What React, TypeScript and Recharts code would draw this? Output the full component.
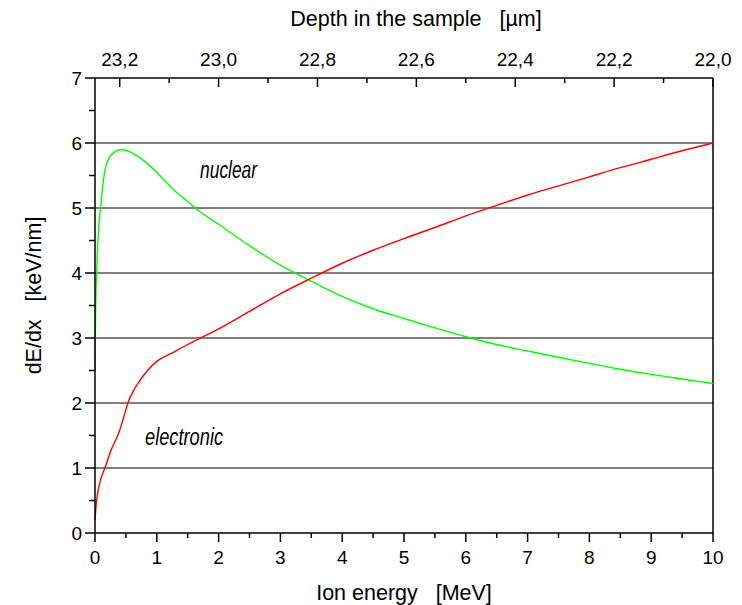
import React from "react";
import { LineChart, Line, XAxis, YAxis, ReferenceLine, ReferenceDot } from "recharts";

// ion energy [MeV] -> stopping power [keV/nm]
const nuclearEnergy = [0, 0.01, 0.027, 0.05, 0.09, 0.16, 0.24, 0.33, 0.43, 0.55, 0.7, 0.84, 1.0, 1.25, 1.5, 1.62, 2.0, 2.5, 3.0, 3.46, 4.0, 4.5, 5.0, 5.42, 6.0, 6.5, 7.0, 7.52, 8.0, 8.5, 9.0, 9.5, 10];
const nuclearDEdx = [2.5, 3.4, 4.0, 4.55, 5.0, 5.58, 5.79, 5.87, 5.9, 5.87, 5.79, 5.69, 5.55, 5.3, 5.1, 5.0, 4.75, 4.42, 4.12, 3.89, 3.64, 3.45, 3.3, 3.18, 3.02, 2.9, 2.8, 2.7, 2.61, 2.52, 2.44, 2.37, 2.3];

const electronicEnergy = [0, 0.02, 0.05, 0.1, 0.16, 0.25, 0.4, 0.47, 0.54, 0.63, 0.73, 0.85, 1.0, 1.25, 1.5, 2.0, 2.5, 3.0, 3.5, 4.0, 4.5, 5.0, 5.5, 6.0, 6.5, 7.0, 7.5, 8.0, 8.5, 9.0, 9.5, 10];
const electronicDEdx = [0.2, 0.45, 0.65, 0.85, 1.0, 1.25, 1.58, 1.8, 2.02, 2.2, 2.35, 2.5, 2.64, 2.77, 2.9, 3.14, 3.41, 3.68, 3.92, 4.15, 4.35, 4.53, 4.7, 4.88, 5.04, 5.2, 5.34, 5.48, 5.62, 5.75, 5.88, 6.0];

const energyTicks = [0, 0.5, 1, 1.5, 2, 2.5, 3, 3.5, 4, 4.5, 5, 5.5, 6, 6.5, 7, 7.5, 8, 8.5, 9, 9.5, 10];
const dedxTicks = [0, 0.5, 1, 1.5, 2, 2.5, 3, 3.5, 4, 4.5, 5, 5.5, 6, 6.5, 7];
const gridLevels = [1, 2, 3, 4, 5, 6];

// top axis: depth [um], placed at the matching ion energy
const depthTickEnergy = [0.4, 1.2, 2.0, 2.8, 3.6, 4.4, 5.2, 6.0, 6.8, 7.6, 8.4, 9.2, 10];
const depthLabels = ["23,2", "", "23,0", "", "22,8", "", "22,6", "", "22,4", "", "22,2", "", "22,0"];

const nuclearData = nuclearEnergy.map((e, i) => ({ e, v: nuclearDEdx[i] }));
const electronicData = electronicEnergy.map((e, i) => ({ e, v: electronicDEdx[i] }));

const FONT = "'Liberation Sans', Arial, sans-serif";
const isMajor = (v: number) => Number.isInteger(v);

const BottomTick = (props: any) => {
  const { x, y, payload } = props;
  const major = isMajor(payload.value);
  return (
    <g>
      <line x1={x} x2={x} y1={y} y2={y + (major ? 9 : 5)} stroke="#000" strokeWidth={1.5} />
      {major && (
        <text x={x} y={y + 31} textAnchor="middle" fontSize={19} fontFamily={FONT} fill="#000">
          {payload.value}
        </text>
      )}
    </g>
  );
};

const LeftTick = (props: any) => {
  const { x, y, payload } = props;
  const major = isMajor(payload.value);
  return (
    <g>
      <line x1={x} x2={x - (major ? 10 : 6)} y1={y} y2={y} stroke="#000" strokeWidth={1.5} />
      {major && (
        <text x={x - 13} y={y} dy="0.35em" textAnchor="end" fontSize={19} fontFamily={FONT} fill="#000">
          {payload.value}
        </text>
      )}
    </g>
  );
};

const TopTick = (props: any) => {
  const { x, y, payload } = props;
  const label = depthLabels[depthTickEnergy.indexOf(payload.value)];
  return (
    <g>
      <line x1={x} x2={x} y1={y} y2={y + (label ? 9 : 5)} stroke="#000" strokeWidth={1.5} />
      {label && (
        <text x={x} y={y - 12} textAnchor="middle" fontSize={19} fontFamily={FONT} fill="#000">
          {label}
        </text>
      )}
    </g>
  );
};

const note = (text: string, width: number) => (props: any) => {
  const { viewBox } = props;
  return (
    <text
      x={viewBox.x}
      y={viewBox.y}
      fontSize={23}
      fontStyle="italic"
      fontFamily={FONT}
      fill="#000"
      textLength={width}
      lengthAdjust="spacingAndGlyphs"
    >
      {text}
    </text>
  );
};

const App = () => {
  return (
    <div style={{ position: "absolute", left: 0, top: 0, background: "#fff" }}>
      <LineChart width={742} height={605} margin={{ top: 0, right: 29, bottom: 0, left: 0 }}>
        <XAxis
          xAxisId="e"
          dataKey="e"
          type="number"
          domain={[0, 10]}
          ticks={energyTicks}
          interval={0}
          height={72}
          tickSize={0}
          tickMargin={0}
          tickLine={false}
          tick={<BottomTick />}
          axisLine={{ stroke: "#000", strokeWidth: 1.5 }}
          label={{
            value: "Ion energy\u00a0\u00a0\u00a0[MeV]",
            position: "insideBottom",
            offset: 5,
            fontSize: 21.5,
            fontFamily: FONT,
            fill: "#000",
          }}
        />
        <XAxis
          xAxisId="d"
          dataKey="e"
          orientation="top"
          type="number"
          domain={[0, 10]}
          allowDataOverflow
          ticks={depthTickEnergy}
          interval={0}
          height={78}
          tickSize={0}
          tickMargin={0}
          tickLine={false}
          tick={<TopTick />}
          axisLine={{ stroke: "#000", strokeWidth: 1.5 }}
          label={{
            value: "Depth in the sample\u00a0\u00a0\u00a0[\u00b5m]",
            position: "insideTop",
            offset: 11,
            dx: 12,
            fontSize: 21.5,
            fontFamily: FONT,
            fill: "#000",
          }}
        />
        <YAxis
          yAxisId="l"
          type="number"
          domain={[0, 7]}
          ticks={dedxTicks}
          interval={0}
          width={95}
          tickSize={0}
          tickMargin={0}
          tickLine={false}
          tick={<LeftTick />}
          axisLine={{ stroke: "#000", strokeWidth: 1.5 }}
          label={{
            content: (p: any) => {
              const cy = p.viewBox.y + p.viewBox.height / 2 - 10;
              return (
                <text
                  x={33}
                  y={cy}
                  transform={`rotate(-90, 33, ${cy})`}
                  textAnchor="middle"
                  dy="0.35em"
                  fontSize={21.5}
                  fontFamily={FONT}
                  fill="#000"
                >
                  {"dE/dx\u00a0\u00a0\u00a0[keV/nm]"}
                </text>
              );
            },
          }}
        />
        {gridLevels.map((g) => (
          <ReferenceLine key={g} y={g} xAxisId="e" yAxisId="l" stroke="#000" strokeWidth={1} />
        ))}
        <ReferenceLine x={10} xAxisId="e" yAxisId="l" stroke="#000" strokeWidth={1.5} />
        {/* hidden copy so the depth axis has a series to scale */}
        <Line
          xAxisId="d"
          yAxisId="l"
          data={electronicData}
          dataKey="v"
          stroke="none"
          dot={false}
          activeDot={false}
          legendType="none"
          isAnimationActive={false}
        />
        <Line
          xAxisId="e"
          yAxisId="l"
          data={nuclearData}
          dataKey="v"
          type="monotone"
          stroke="#00ff00"
          strokeWidth={1.4}
          dot={false}
          isAnimationActive={false}
        />
        <Line
          xAxisId="e"
          yAxisId="l"
          data={electronicData}
          dataKey="v"
          type="monotone"
          stroke="#ff0000"
          strokeWidth={1.4}
          dot={false}
          isAnimationActive={false}
        />
        <ReferenceDot xAxisId="e" yAxisId="l" x={1.7} y={5.46} r={0} fill="none" stroke="none" label={{ content: note("nuclear", 57) }} />
        <ReferenceDot xAxisId="e" yAxisId="l" x={0.81} y={1.35} r={0} fill="none" stroke="none" label={{ content: note("electronic", 78) }} />
      </LineChart>
    </div>
  );
};

export default App;
